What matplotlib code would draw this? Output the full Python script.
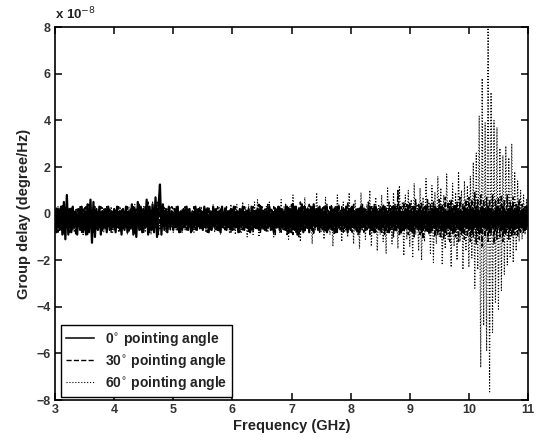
import numpy as np
import matplotlib
matplotlib.use("Agg")
import matplotlib.pyplot as plt

plt.rcParams['font.family'] = ['Liberation Sans', 'DejaVu Sans']

# Frequency grid (GHz), 25 MHz spacing
freq = np.linspace(3.0, 11.0, 321)

# Group delay, in units of 1e-8 degree/Hz
gd_0deg = [
    0.1, -0.8, 0.2, -0.7, 0.3, -0.9, 0.5, -1.1, 0.8, -0.9, 0.2, -0.8, 0.3, -0.6, 0.1, -0.9, 0.2, -0.7, 0.3, -0.8,
    0.2, -0.9, 0.4, -0.8, 0.6, -1.25, 0.5, -1.0, 0.2, -0.7, 0.3, -0.9, 0.1, -0.6, 0.2, -0.8, 0.3, -0.7, 0.1, -0.6,
    0.2, -0.8, 0.3, -0.6, 0.1, -0.9, 0.2, -0.7, 0.3, -0.8, 0.1, -0.6, 0.4, -0.9, 0.2, -1.0, 0.5, -0.7, 0.3, -0.8,
    0.2, -0.6, 0.6, -0.9, 0.3, -0.7, 0.4, -0.8, 0.7, -1.0, 0.3, 1.25, -0.9, 0.4, -0.7, 0.2, -0.8, 0.3, -0.6, 0.1,
    -0.7, 0.2, -0.6, 0.3, -0.8, 0.1, -0.7, 0.2, -0.6, 0.3, -0.7, 0.2, -0.8, 0.1, -0.6, 0.3, -0.7, 0.2, -0.6, 0.1,
    -0.7, 0.3, -0.6, 0.2, -0.8, 0.1, -0.7, 0.3, -0.6, 0.2, -0.7, 0.1, -0.8, 0.3, -0.6, 0.2, -0.7, 0.1, -0.6, 0.2,
    -0.7, 0.3, -0.6, 0.1, -0.8, 0.2, -0.6, 0.3, -0.7, 0.1, -0.6, 0.2, -0.8, 0.3, -0.7, 0.1, -0.6, 0.2, -0.7, 0.3,
    -0.6, 0.1, -0.7, 0.2, -0.6, 0.3, -0.7, 0.1, -0.8, 0.2, -0.6, 0.3, -0.7, 0.2, -0.6, 0.1, -0.7, 0.3, -0.8, 0.2,
    -0.8, 0.4, -0.7, 0.3, -0.9, 0.2, -0.7, 0.4, -0.8, 0.3, -0.6, 0.2, -0.8, 0.3, -0.7, 0.4, -0.6, 0.2, -0.7, 0.3,
    -0.6, 0.2, -0.7, 0.3, -0.8, 0.1, -0.6, 0.3, -0.7, 0.2, -0.8, 0.3, -0.6, 0.1, -0.7, 0.2, -0.6, 0.3, -0.8, 0.2,
    -0.7, 0.3, -0.6, 0.1, -0.7, 0.2, -0.8, 0.3, -0.6, 0.2, -0.7, 0.1, -0.6, 0.3, -0.7, 0.2, -0.8, 0.3, -0.6, 0.1,
    -0.7, 0.2, -0.6, 0.3, -0.7, 0.1, -0.8, 0.2, -0.6, 0.3, -0.7, 0.2, -0.6, 0.3, -0.8, 0.1, -0.7, 0.2, -0.6, 0.3,
    -0.7, 0.2, -0.8, 0.3, -0.6, 0.1, -0.7, 0.3, -0.8, 0.2, -0.6, 0.3, -0.7, 0.1, -0.8, 0.2, -0.6, 0.3, -0.7, 0.2,
    -0.6, 0.3, -0.7, 0.2, -0.8, 0.1, -0.6, 0.3, -0.7, 0.2, -0.8, 0.3, -0.6, 0.2, -0.7, 0.1, -0.8, 0.3, -0.6, 0.2,
    -0.7, 0.3, -0.8, 0.2, -0.6, 0.3, -0.7, 0.1, -0.8, 0.3, -0.6, 0.2, -0.7, 0.3, -0.8, 0.2, -0.6, 0.1, -0.7, 0.3,
    -0.6, 0.2, -0.7, 0.3, -0.8, 0.1, -0.6, 0.2, -0.7, 0.3, -0.8, 0.2, -0.6, 0.3, -0.7, 0.1, -0.6, 0.2, -0.7, 0.3,
    -0.5,
]

gd_30deg = [
    -0.6, 0.3, -0.8, 0.2, -0.7, 0.4, -0.9, 0.3, -0.6, 0.2, -0.8, 0.3, -0.7, 0.1, -0.9, 0.2, -0.6, 0.3, -0.8, 0.2,
    -0.7, 0.3, -0.9, 0.4, -0.6, 0.2, -0.8, 0.3, -0.7, 0.1, -0.6, 0.3, -0.8, 0.2, -0.7, 0.3, -0.6, 0.2, -0.8, 0.1,
    -0.7, 0.2, -0.6, 0.3, -0.8, 0.2, -0.7, 0.1, -0.6, 0.3, -0.8, 0.2, -0.7, 0.3, -0.9, 0.2, -0.6, 0.4, -0.7, 0.2,
    -0.8, 0.3, -0.6, 0.5, -0.8, 0.2, -0.7, 0.3, -0.6, 0.5, -0.9, 0.2, -0.7, 0.3, -0.6, 0.2, -0.8, 0.1, -0.7, 0.3,
    0.2, -0.6, 0.3, -0.7, 0.1, -0.8, 0.2, -0.6, 0.3, -0.7, 0.2, -0.6, 0.1, -0.8, 0.3, -0.7, 0.2, -0.6, 0.3, -0.7,
    0.1, -0.6, 0.2, -0.8, 0.3, -0.7, 0.1, -0.6, 0.2, -0.7, 0.3, -0.8, 0.2, -0.6, 0.1, -0.7, 0.3, -0.6, 0.2, -0.8,
    0.2, -0.7, 0.3, -0.6, 0.1, -0.8, 0.2, -0.7, 0.3, -0.6, 0.2, -0.8, 0.1, -0.7, 0.3, -0.6, 0.2, -0.7, 0.4, -0.8,
    0.3, -0.7, 0.2, -0.8, 0.4, -0.6, 0.2, -0.7, 0.3, -0.9, 0.2, -0.6, 0.3, -0.8, 0.2, -0.7, 0.4, -0.9, 0.3, -0.8,
    0.4, -0.9, 0.3, -0.8, 0.2, -1.0, 0.5, -0.7, 0.3, -0.8, 0.2, -0.7, 0.4, -0.7, 0.3, -0.9, 0.2, -0.6, 0.3, -0.8,
    0.2, -0.7, 0.3, -0.8, 0.4, -0.7, 0.3, -0.7, 0.2, -0.9, 0.3, -0.8, 0.4, -0.7, 0.3, -0.8, 0.2, -0.7, 0.5, -0.7,
    0.3, -0.8, 0.4, -0.7, 0.2, -0.9, 0.3, -0.7, 0.4, -0.8, 0.2, -0.7, 0.5, -0.9, 0.3, -0.8, 0.4, -0.8, 0.2, -0.7,
    0.3, -0.8, 0.4, -0.9, 0.3, -0.8, 0.5, -0.7, 0.3, -1.0, 0.4, -0.8, 1.0, -0.9, 0.3, -0.8, 0.5, -0.7, 0.4, -0.9,
    0.5, -0.8, 0.3, -1.0, 0.6, -0.7, 0.4, -0.9, 0.5, -1.1, 0.3, -0.8, 0.6, -0.9, 0.4, -0.8, 0.5, -1.0, 0.3, -0.9,
    0.6, -1.0, 0.4, -1.1, 0.7, -0.9, 0.5, -1.2, 0.6, -0.9, 0.4, -1.0, 0.5, -1.2, 0.7, -0.9, 0.4, -1.1, 0.6, -1.0,
    0.7, -1.2, 0.6, -1.0, 0.9, -1.3, 0.6, -1.1, 0.8, -1.4, 0.6, -1.0, 0.7, -1.2, 0.6, -0.9, 0.8, -1.3, 0.6, -1.1,
    0.7, -1.0, 0.8, -1.2, 0.6, -0.9, 0.8, -1.1, 0.5, -1.0, 0.7, -0.9, 0.4, -1.0, 0.6, -0.8, 0.4, -0.8, 0.3, -0.7,
    0.3,
]

gd_60deg = [
    0.2, -0.7, 0.3, -0.6, 0.1, -0.8, 0.3, -0.9, 0.4, -0.7, 0.2, -0.6, 0.3, -0.8, 0.2, -0.7, 0.1, -0.6, 0.3, -0.9,
    0.3, -0.7, 0.2, -0.6, 0.4, -0.9, 0.3, -0.8, 0.1, -0.6, 0.2, -0.7, 0.3, -0.8, 0.1, -0.6, 0.2, -0.7, 0.3, -0.8,
    0.1, -0.7, 0.2, -0.8, 0.3, -0.6, 0.1, -0.7, 0.2, -0.9, 0.3, -0.7, 0.2, -0.6, 0.4, -0.8, 0.3, -0.7, 0.2, -0.6,
    0.3, -0.8, 0.4, -0.7, 0.2, -0.9, 0.5, -0.6, 0.3, -0.8, 0.2, -0.7, 0.1, -0.6, 0.3, -0.8, 0.2, -0.7, 0.3, -0.6,
    -0.8, 0.2, -0.7, 0.3, -0.6, 0.1, -0.8, 0.2, -0.7, 0.3, -0.6, 0.2, -0.7, 0.1, -0.8, 0.3, -0.6, 0.2, -0.7, 0.3,
    -0.6, 0.2, -0.8, 0.3, -0.7, 0.1, -0.6, 0.4, -0.8, 0.2, -0.7, 0.3, -0.9, 0.2, -0.6, 0.3, -0.7, 0.1, -0.8, 0.4,
    -0.7, 0.3, -0.9, 0.4, -0.6, 0.2, -0.8, 0.5, -0.7, 0.3, -1.0, 0.4, -0.8, 0.3, -0.9, 0.5, -0.7, 0.6, -1.0, 0.4,
    -0.7, 0.2, -0.6, 0.3, -0.8, 0.5, -0.7, 0.2, -1.0, 0.3, -0.6, 0.2, -0.8, 0.6, -0.7, 0.3, -0.6, 0.2, -1.1, 0.3,
    -0.7, 0.8, -0.6, 0.2, -0.9, 0.3, -1.2, 0.2, -0.7, 0.7, -0.6, 0.3, -0.8, 0.2, -1.3, 0.4, -0.7, 0.9, -0.6, 0.2,
    -0.8, 0.3, -1.1, 0.7, -0.6, 0.2, -0.9, 0.4, -1.4, 0.3, -0.7, 0.8, -0.6, 0.2, -1.2, 0.5, -0.8, 0.3, -1.0, 0.9,
    -0.7, 0.3, -1.3, 0.6, -0.8, 0.2, -1.5, 0.9, -0.7, 0.3, -1.1, 0.4, -0.6, 1.0, -1.4, 0.3, -0.8, 0.7, -1.6, 0.4,
    -0.9, 0.8, -1.2, 0.3, -1.7, 1.1, -0.8, 0.4, -1.3, 0.9, -0.7, 0.3, -1.5, 1.2, -0.9, 0.5, -1.8, 0.8, -1.1, 1.0,
    -1.4, 0.6, -1.9, 1.3, -0.9, 0.4, -1.6, 1.1, -2.0, 0.7, -1.2, 1.5, -0.8, 0.5, -1.7, 1.2, -2.1, 0.9, -1.3, 1.6,
    -1.0, 1.1, -2.2, 0.8, -1.5, 1.7, -1.1, 0.6, -2.3, 1.3, -1.4, 0.9, -2.0, 1.8, -1.2, 1.0, -2.4, 1.4, -1.6, 1.2,
    -2.3, 1.6, -1.9, 2.2, -3.2, 2.6, -2.4, 4.2, -6.6, 5.8, -4.8, 3.9, -5.9, 8.6, -7.7, 5.2, -5.1, 4.0, -3.8, 3.7,
    -4.1, 2.8, -3.3, 2.5, -2.6, 2.9, -2.2, 2.4, -1.9, 3.0, -2.1, 1.8, -1.6, 1.4, -1.2, 1.0, -1.1, 0.8, -0.9, 0.6,
    -0.6,
]

series_labels = ["0$^{\\circ}$ pointing angle",
                 "30$^{\\circ}$ pointing angle",
                 "60$^{\\circ}$ pointing angle"]

fig = plt.figure(figsize=(5.48, 4.46), dpi=100)
ax = fig.add_axes([0.1004, 0.103, 0.8631, 0.836])

l60, = ax.plot(freq, gd_60deg, color='black', linestyle=':', linewidth=0.8, zorder=2)
l30, = ax.plot(freq, gd_30deg, color='black', linestyle='--', linewidth=1.0, zorder=3)
l0, = ax.plot(freq, gd_0deg, color='black', linestyle='-', linewidth=1.6, zorder=4)

ax.set_xlim(3, 11)
ax.set_ylim(-8, 8)
ax.set_xticks(np.arange(3, 12, 1))
ax.set_yticks(np.arange(-8, 9, 2))

for side in ax.spines.values():
    side.set_linewidth(1.2)
ax.tick_params(direction='in', top=True, right=True, length=5, width=1.1,
               labelsize=9, colors='black', pad=3)
for lab in ax.get_xticklabels() + ax.get_yticklabels():
    lab.set_fontweight('bold')
    lab.set_color('#333333')

ax.set_xlabel("Frequency (GHz)", fontsize=10.5, fontweight='bold', color='#222222', labelpad=2)
ax.set_ylabel("Group delay (degree/Hz)", fontsize=10.5, fontweight='bold', color='#222222', labelpad=4)

ax.text(0.0, 1.012, "x 10$^{-8}$", transform=ax.transAxes, fontsize=9.5,
        fontweight='bold', color='#222222', ha='left', va='bottom')

leg_handles = [l0, l30, l60]
leg = ax.legend(leg_handles, series_labels, loc='lower left',
                bbox_to_anchor=(0.01, 0.005), borderaxespad=0.1,
                fancybox=False, framealpha=1,
                edgecolor='black', handlelength=2.0, fontsize=10,
                borderpad=0.35, labelspacing=0.3, handletextpad=0.8)
leg.get_frame().set_linewidth(1.0)
leg.get_lines()[0].set_linewidth(1.1)
for t in leg.get_texts():
    t.set_fontweight('bold')
    t.set_color('#222222')

fig.savefig("out.png", dpi=100)
